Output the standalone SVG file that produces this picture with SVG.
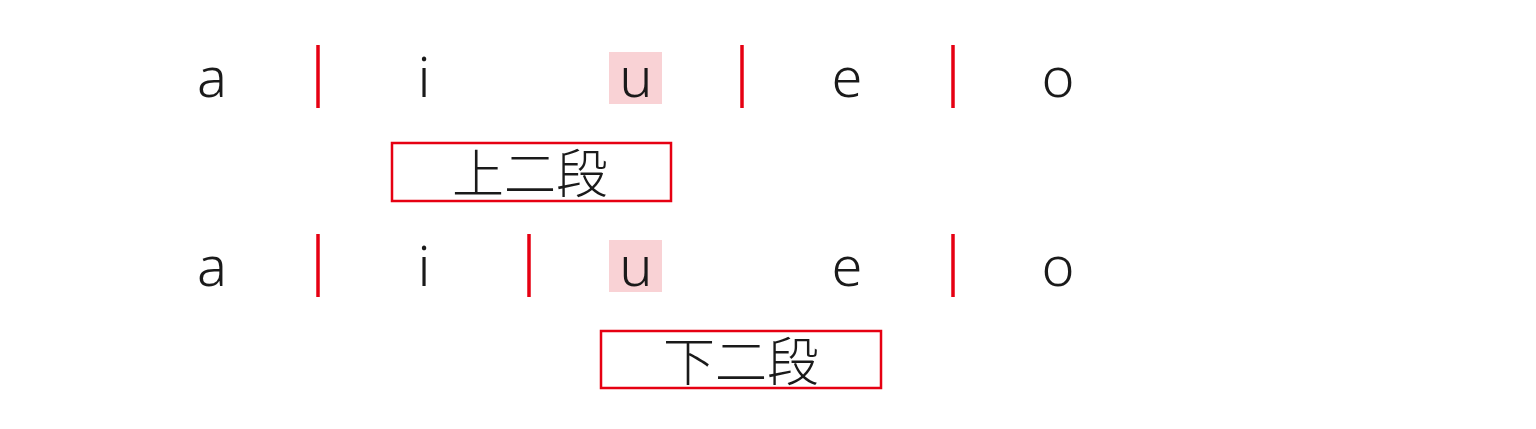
<svg xmlns="http://www.w3.org/2000/svg" width="1536" height="429" viewBox="0 0 1536 429">
<style>
.l{font-family:"Noto Sans","Noto Sans CJK JP",sans-serif;font-weight:300;font-size:56px;fill:#1a1a1a;text-anchor:middle}
.j{font-family:"Noto Sans CJK JP",sans-serif;font-weight:300;font-size:52px;fill:#1a1a1a;text-anchor:middle}
.bar{stroke:#e60012;stroke-width:3.5}
.box{fill:none;stroke:#e60012;stroke-width:2.5}
.hl{fill:#f9d2d5}
</style>
<rect width="1536" height="429" fill="#ffffff"/>
<g id="row1">
<rect class="hl" x="609" y="52" width="53" height="52"/>
<text class="l" x="212" y="97">a</text>
<text class="l" x="424" y="97">i</text>
<text class="l" x="636" y="97">u</text>
<text class="l" x="847" y="97">e</text>
<text class="l" x="1058" y="97">o</text>
</g>
<g id="row2">
<rect class="hl" x="609" y="240" width="53" height="52"/>
<text class="l" x="212" y="286">a</text>
<text class="l" x="424" y="286">i</text>
<text class="l" x="636" y="286">u</text>
<text class="l" x="847" y="286">e</text>
<text class="l" x="1058" y="286">o</text>
</g>
<g id="connectors">
<line class="bar" x1="318" y1="45" x2="318" y2="108"/>
<line class="bar" x1="742" y1="45" x2="742" y2="108"/>
<line class="bar" x1="953" y1="45" x2="953" y2="108"/>
<line class="bar" x1="318" y1="234" x2="318" y2="297"/>
<line class="bar" x1="529" y1="234" x2="529" y2="297"/>
<line class="bar" x1="953" y1="234" x2="953" y2="297"/>
</g>
<g id="box1">
<rect class="box" x="392" y="143" width="279" height="58"/>
<text class="j" x="530" y="193">上二段</text>
</g>
<g id="box2">
<rect class="box" x="601" y="331" width="280" height="57"/>
<text class="j" x="741" y="381">下二段</text>
</g>
</svg>
